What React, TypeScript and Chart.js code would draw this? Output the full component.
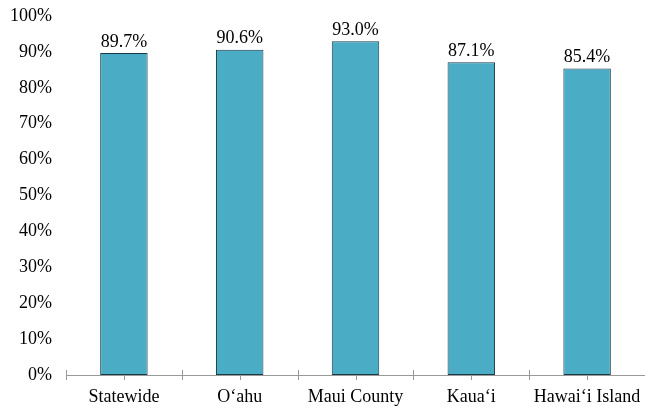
import React, { useEffect, useRef } from "react";
import { Chart, registerables } from "chart.js";

Chart.register(...registerables);

const categories = ["Statewide", "O‘ahu", "Maui County", "Kaua‘i", "Hawai‘i Island"];
const values = [89.7, 90.6, 93.0, 87.1, 85.4];
const yTicks = [0, 10, 20, 30, 40, 50, 60, 70, 80, 90, 100];

const FONT = "'Liberation Serif', 'Times New Roman', serif";

const labelPlugin = {
  id: "valueLabels",
  afterDatasetsDraw(chart: any) {
    const ctx = chart.ctx;
    const meta = chart.getDatasetMeta(0);
    ctx.save();
    ctx.font = `18px ${FONT}`;
    ctx.fillStyle = "#000";
    ctx.textAlign = "center";
    ctx.textBaseline = "bottom";
    meta.data.forEach((bar: any, i: number) => {
      ctx.fillText(values[i].toFixed(1) + "%", bar.x, bar.y - 2);
    });
    ctx.restore();
  },
};

const tickPlugin = {
  id: "axisTicks",
  afterDraw(chart: any) {
    const ctx = chart.ctx;
    const xs = chart.scales.x;
    const y0 = chart.chartArea.bottom;
    ctx.save();
    ctx.strokeStyle = "#999";
    ctx.lineWidth = 1;
    const n = categories.length;
    const step = (xs.right - xs.left) / n;
    ctx.beginPath();
    for (let i = 0; i <= n; i++) {
      const x = Math.round(xs.left + step * i) + 0.5;
      ctx.moveTo(x, y0 - 5);
      ctx.lineTo(x, y0 + 5);
    }
    for (let i = 0; i < n; i++) {
      const x = Math.round(xs.getPixelForTick(i)) + 0.5;
      ctx.moveTo(x, y0);
      ctx.lineTo(x, y0 + 5);
    }
    ctx.stroke();
    ctx.restore();
  },
};

export default function App() {
  const ref = useRef<HTMLCanvasElement | null>(null);
  useEffect(() => {
    document.body.style.margin = "0";
    const chart = new Chart(ref.current!, {
      type: "bar",
      data: {
        labels: categories,
        datasets: [
          {
            data: values,
            backgroundColor: "#4BACC6",
            borderColor: "#1A3A48",
            borderWidth: 1,
            borderSkipped: false,
            categoryPercentage: 1,
            barPercentage: 0.41,
          },
        ],
      },
      options: {
        animation: false,
        responsive: false,
        maintainAspectRatio: false,
        layout: { padding: { top: 16, left: 0, right: 0, bottom: 0 } },
        plugins: { legend: { display: false }, tooltip: { enabled: false } },
        scales: {
          x: {
            grid: { display: false },
            border: { display: true, color: "#999", width: 1 },
            ticks: { color: "#000", font: { family: FONT, size: 18 }, padding: 3, maxRotation: 0 },
            afterFit: (scale: any) => {
              scale.height = 35;
              scale.paddingLeft = 0;
              scale.paddingRight = 0;
            },
          },
          y: {
            min: 0,
            max: 100,
            afterBuildTicks: (scale: any) => {
              scale.ticks = yTicks.map((v) => ({ value: v }));
            },
            afterFit: (scale: any) => {
              scale.width = 66;
              scale.paddingTop = 0;
              scale.paddingBottom = 0;
            },
            grid: { display: false },
            border: { display: false },
            ticks: {
              color: "#000",
              font: { family: FONT, size: 18 },
              padding: 6,
              callback: (v: any) => v + "%",
            },
          },
        },
      },
      plugins: [labelPlugin, tickPlugin],
    });
    return () => chart.destroy();
  }, []);
  return <canvas ref={ref} width={645} height={410} style={{ display: "block" }} />;
}
